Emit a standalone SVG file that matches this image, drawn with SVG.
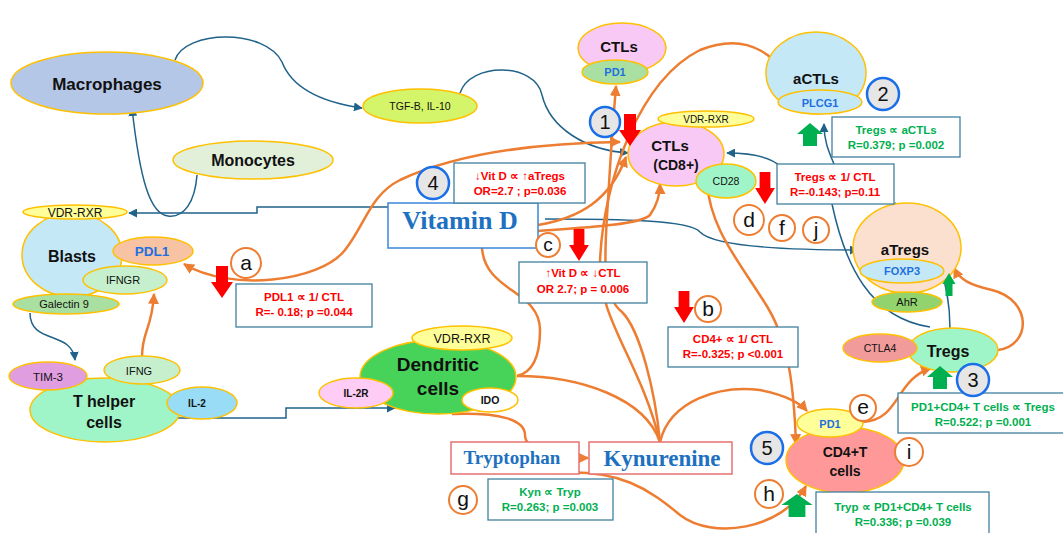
<svg xmlns="http://www.w3.org/2000/svg" width="1063" height="533" viewBox="0 0 1063 533">
<style>
text{font-family:"Liberation Sans",Arial,sans-serif;text-anchor:middle;fill:#111}
.n{stroke:#ffc000;stroke-width:1.5}
.b{font-weight:bold}
.blue{fill:#1f6fe0;font-weight:bold}
.box{fill:#fff;stroke:#41809f;stroke-width:1.3}
.red{fill:#f00;font-weight:bold;font-size:11.5px}
.grn{fill:#00b050;font-weight:bold;font-size:11.5px}
.num{fill:#e7e6e6;stroke:#1a6ee8;stroke-width:2.5}
.let{fill:#fff;stroke:#ed7d31;stroke-width:2}
.lt{font-size:21px}
.db{fill:none;stroke:#20628a;stroke-width:1.5}
.or{fill:none;stroke:#ed7d31;stroke-width:2.5}
.serif{font-family:"Liberation Serif","Times New Roman",serif;font-weight:bold;fill:#1e70c1}
</style>
<defs>
<marker id="mb" viewBox="0 0 10 10" refX="9" refY="5" markerWidth="9" markerHeight="9" markerUnits="userSpaceOnUse" orient="auto-start-reverse"><path d="M0,0 L10,5 L0,10 z" fill="#20628a"/></marker>
<marker id="mo" viewBox="0 0 10 10" refX="9" refY="5" markerWidth="11" markerHeight="11" markerUnits="userSpaceOnUse" orient="auto-start-reverse"><path d="M0,0 L10,5 L0,10 z" fill="#ed7d31"/></marker>
<path id="rdown" d="M-6,0 H6 V16 H11 L0,32 L-11,16 H-6 Z" fill="#f00"/>
<path id="gup" d="M0,0 L13,11 H7 V23 H-7 V11 H-13 Z" fill="#00b050"/>
</defs>

<g id="connectors">
<path class="db" d="M175,60 C185,30 265,28 282,62 C292,88 320,102 362,108" marker-end="url(#mb)"/>
<path class="db" d="M460,93 C470,62 535,62 542,95 C550,128 585,150 628,153" marker-end="url(#mb)"/>
<path class="db" d="M197,175 C195,202 184,218 168,216 C150,214 140,180 132,108" marker-end="url(#mb)"/>
<path class="db" d="M388,207 H257 V213 H129" marker-end="url(#mb)"/>
<path class="db" d="M545,219 C620,219 690,220 700,232 C715,248 800,250 858,250" marker-end="url(#mb)"/>
<path class="db" d="M780,166 C770,157 750,153 727,153" marker-end="url(#mb)"/>
<path class="db" d="M832,204 C845,265 870,318 930,327"/>
<path class="db" d="M950,329 C950,285 935,228 895,203"/>
<path class="db" d="M834,164 C828,150 824,140 824,124" marker-end="url(#mb)"/>
<path class="db" d="M73,229 H97 V259 H123"/>
<path class="db" d="M30,313 C30,345 72,330 75,360" marker-end="url(#mb)"/>
<path class="db" d="M177,418 H286 V408 H395" marker-end="url(#mb)"/>
<path class="or" d="M184,264 C230,292 320,282 345,250 C365,225 370,195 400,180 C460,152 540,143 620,142" marker-start="url(#mo)" marker-end="url(#mo)"/>
<path class="or" d="M538,225 C580,218 610,200 626,157" marker-end="url(#mo)"/>
<path class="or" d="M538,231 C580,228 640,225 650,215 C657,205 660,195 660,184" marker-end="url(#mo)"/>
<path class="or" d="M482,248 C485,292 540,290 540,330 C540,362 530,373 517,376"/>
<path class="or" d="M517,376 C580,376 645,398 660,442"/>
<path class="or" d="M660,442 C655,390 640,330 622,312 C600,295 605,250 608,200 C611,150 614,110 616,86" marker-end="url(#mo)"/>
<path class="or" d="M660,442 C640,360 598,320 600,262 C603,180 640,80 700,50 C750,30 782,58 791,92" marker-end="url(#mo)"/>
<path class="or" d="M660,442 C670,400 720,385 760,390 C785,395 800,403 807,411" marker-end="url(#mo)"/>
<path class="or" d="M707,182 C710,230 740,262 768,308 C790,345 794,392 796,444" marker-start="url(#mo)" marker-end="url(#mo)"/>
<path class="or" d="M452,414 C500,412 525,420 525,435 C525,452 560,458 588,458" marker-end="url(#mo)"/>
<path class="or" d="M553,473 C620,468 650,490 680,515 C712,540 782,530 806,486" marker-end="url(#mo)"/>
<path class="or" d="M863,422 C900,420 895,380 931,368" marker-end="url(#mo)"/>
<path class="or" d="M998,350 C1032,345 1032,300 992,290 C970,285 960,280 954,268" marker-end="url(#mo)"/>
<path class="or" d="M142,357 C142,330 152,330 154,294" marker-end="url(#mo)"/>
</g>

<g id="macrophages"><ellipse class="n" cx="107" cy="83" rx="96" ry="31" fill="#b4c7e7"/><text x="107" y="90" class="b" font-size="17">Macrophages</text></g>
<g id="monocytes"><ellipse class="n" cx="253" cy="160" rx="80" ry="19" fill="#e2f0d9"/><text x="253" y="166" class="b" font-size="16">Monocytes</text></g>
<g id="tgfb"><ellipse class="n" cx="420" cy="106" rx="57" ry="17" fill="#d4f46a"/><text x="420" y="110" font-size="10.5">TGF-B, IL-10</text></g>

<g id="ctls-top"><ellipse class="n" cx="622" cy="48" rx="44" ry="25" fill="#f9c9f5"/><ellipse class="n" cx="615" cy="72" rx="33" ry="12" fill="#a9dfa0"/><text x="619" y="52" class="b" font-size="15">CTLs</text><text x="615" y="76" class="blue" font-size="11">PD1</text></g>

<g id="ctls-cd8"><ellipse class="n" cx="676" cy="154" rx="48" ry="32" fill="#f9c9f5"/><ellipse class="n" cx="706" cy="119" rx="48" ry="8" fill="#ffff99"/><text x="706" y="123" font-size="10">VDR-RXR</text><text x="670" y="151" class="b" font-size="15">CTLs</text><text x="676" y="170" class="b" font-size="14">(CD8+)</text><ellipse class="n" cx="726" cy="181" rx="30" ry="17" fill="#a0f5c8"/><text x="726" y="185" font-size="10.5">CD28</text></g>

<g id="actls"><ellipse class="n" cx="816" cy="73" rx="50" ry="41" fill="#c5e8f7"/><text x="816" y="84" class="b" font-size="15">aCTLs</text><ellipse class="n" cx="820" cy="102" rx="42" ry="12" fill="#c5e8f7"/><text x="820" y="107" class="blue" font-size="11">PLCG1</text></g>

<g id="atregs"><ellipse class="n" cx="907" cy="248" rx="54" ry="45" fill="#fbe0d0"/><text x="905" y="255" class="b" font-size="15">aTregs</text><ellipse class="n" cx="902" cy="271" rx="42" ry="12" fill="#c5e8f7"/><text x="902" y="275" class="blue" font-size="11">FOXP3</text><ellipse class="n" cx="907" cy="302" rx="35" ry="10" fill="#92d36e"/><text x="907" y="306" font-size="11">AhR</text></g>

<g id="tregs"><ellipse class="n" cx="953" cy="350" rx="45" ry="22" fill="#9ff5c8"/><ellipse class="n" cx="880" cy="348" rx="37" ry="14" fill="#f19b9b"/><text x="880" y="352" font-size="10.5">CTLA4</text><text x="948" y="357" class="b" font-size="16">Tregs</text></g>

<g id="cd4"><ellipse class="n" cx="845" cy="460" rx="59" ry="33" fill="#ff9999"/><ellipse class="n" cx="830" cy="423" rx="33" ry="14" fill="#ffff99"/><text x="830" y="428" class="blue" font-size="11">PD1</text><text x="845" y="457" class="b" font-size="14">CD4+T</text><text x="845" y="476" class="b" font-size="14">cells</text></g>

<g id="blasts"><ellipse class="n" cx="72" cy="255" rx="50" ry="42" fill="#c5e8f7"/><text x="72" y="262" class="b" font-size="16">Blasts</text><ellipse class="n" cx="75" cy="212" rx="52" ry="7" fill="#ffff99"/><text x="75" y="217" font-size="12">VDR-RXR</text><ellipse class="n" cx="153" cy="251" rx="40" ry="14" fill="#f8c3a3"/><text x="152" y="256" class="blue" font-size="13.5">PDL1</text><ellipse class="n" cx="125" cy="280" rx="42" ry="14" fill="#c6efce"/><text x="123" y="284" font-size="11">IFNGR</text><ellipse class="n" cx="66" cy="304" rx="53" ry="10" fill="#a9dfa0"/><text x="64" y="308" font-size="11">Galectin 9</text></g>

<g id="thelper"><ellipse class="n" cx="105" cy="410" rx="75" ry="32" fill="#9ff5c8"/><ellipse class="n" cx="48" cy="376" rx="39" ry="14" fill="#e09ee0"/><text x="48" y="381" font-size="11.5">TIM-3</text><ellipse class="n" cx="142" cy="370" rx="38" ry="14" fill="#c6efce"/><text x="139" y="375" font-size="11">IFNG</text><ellipse class="n" cx="202" cy="403" rx="35" ry="16" fill="#99dcf5"/><text x="197" y="407" class="b" font-size="10">IL-2</text><text x="104" y="407" class="b" font-size="16">T helper</text><text x="104" y="428" class="b" font-size="16">cells</text></g>

<g id="dendritic"><ellipse class="n" cx="438" cy="377" rx="78" ry="37" fill="#47d35a"/><ellipse class="n" cx="462" cy="338" rx="50" ry="12" fill="#ffff99"/><text x="462" y="343" font-size="12.5">VDR-RXR</text><ellipse class="n" cx="356" cy="393" rx="37" ry="15" fill="#ffccf5"/><text x="356" y="397" class="b" font-size="10">IL-2R</text><ellipse class="n" cx="490" cy="400" rx="28" ry="12" fill="#fff"/><text x="490" y="404" class="b" font-size="10.5">IDO</text><text x="438" y="371" class="b" font-size="19">Dendritic</text><text x="438" y="395" class="b" font-size="19">cells</text></g>

<g id="vitamin-d"><rect x="388" y="203" width="150" height="45" fill="#fff" stroke="#3a87d9" stroke-width="1.5"/><text x="460" y="229" class="serif" font-size="26">Vitamin D</text></g>
<g id="tryptophan"><rect x="451" y="442" width="128" height="32" fill="#fff" stroke="#e87070" stroke-width="1.5"/><text x="512" y="464" class="serif" font-size="19">Tryptophan</text></g>
<g id="kynurenine"><rect x="589" y="442" width="143" height="32" fill="#fff" stroke="#e87070" stroke-width="1.5"/><text x="662" y="466" class="serif" font-size="23">Kynurenine</text></g>

<g id="stat-boxes">
<rect class="box" x="454" y="163" width="131" height="40"/><text class="red" x="520" y="180">↓Vit D ∝  ↑aTregs</text><text class="red" x="520" y="195">OR=2.7 ; p=0.036</text>
<rect class="box" x="519" y="262" width="128" height="41"/><text class="red" x="583" y="277">↑Vit D ∝ ↓CTL</text><text class="red" x="583" y="293">OR 2.7; p = 0.006</text>
<rect class="box" x="236" y="284" width="136" height="43"/><text class="red" x="304" y="301">PDL1 ∝ 1/ CTL</text><text class="red" x="304" y="316">R=- 0.18; p =0.044</text>
<rect class="box" x="668" y="327" width="130" height="40"/><text class="red" x="733" y="343">CD4+ ∝ 1/ CTL</text><text class="red" x="733" y="358">R=-0.325; p &lt;0.001</text>
<rect class="box" x="777" y="164" width="117" height="40"/><text class="red" x="835" y="181">Tregs ∝ 1/ CTL</text><text class="red" x="835" y="196">R=-0.143; p=0.11</text>
<rect class="box" x="832" y="117" width="128" height="40"/><text class="grn" x="896" y="134">Tregs ∝ aCTLs</text><text class="grn" x="896" y="149">R=0.379; p =0.002</text>
<rect class="box" x="898" y="393" width="168" height="40"/><text class="grn" x="983" y="411">PD1+CD4+ T cells ∝ Tregs</text><text class="grn" x="983" y="426">R=0.522; p =0.001</text>
<rect class="box" x="816" y="492" width="173" height="45"/><text class="grn" x="903" y="511">Tryp ∝ PD1+CD4+ T cells</text><text class="grn" x="903" y="526">R=0.336; p =0.039</text>
<rect class="box" x="488" y="479" width="125" height="41"/><text class="grn" x="550" y="496">Kyn ∝ Tryp</text><text class="grn" x="550" y="511">R=0.263; p =0.003</text>
</g>

<g id="number-markers">
<circle class="num" cx="605" cy="122" r="15"/><text x="605" y="129" font-size="20">1</text>
<circle class="num" cx="883" cy="94" r="16"/><text x="883" y="101" font-size="20">2</text>
<circle class="num" cx="973" cy="380" r="16"/><text x="973" y="387" font-size="20">3</text>
<circle class="num" cx="433" cy="183" r="16"/><text x="433" y="190" font-size="20">4</text>
<circle class="num" cx="767" cy="448" r="16"/><text x="767" y="455" font-size="20">5</text>
</g>

<g id="letter-markers">
<circle class="let" cx="246" cy="263" r="15"/><text x="246" y="270" class="lt">a</text>
<circle class="let" cx="708" cy="309" r="13"/><text x="708" y="316" class="lt">b</text>
<circle class="let" cx="548" cy="245" r="12"/><text x="548" y="251" font-size="19">c</text>
<circle class="let" cx="749" cy="220" r="15"/><text x="749" y="227" class="lt">d</text>
<circle class="let" cx="863" cy="408" r="13"/><text x="863" y="414" class="lt">e</text>
<circle class="let" cx="782" cy="228" r="13"/><text x="782" y="235" class="lt">f</text>
<circle class="let" cx="463" cy="500" r="14"/><text x="463" y="506" class="lt">g</text>
<circle class="let" cx="769" cy="494" r="14"/><text x="769" y="501" class="lt">h</text>
<circle class="let" cx="909" cy="452" r="14"/><text x="909" y="459" class="lt">i</text>
<circle class="let" cx="816" cy="230" r="13"/><text x="816" y="237" class="lt">j</text>
</g>

<g id="indicator-arrows">
<use href="#rdown" x="630" y="114"/>
<use href="#rdown" transform="translate(765,172) scale(0.9,1)"/>
<use href="#rdown" x="222" y="266"/>
<use href="#rdown" transform="translate(579,229) scale(0.9,1)"/>
<use href="#rdown" transform="translate(684,291) scale(0.9,1)"/>
<use href="#gup" x="810" y="123"/>
<use href="#gup" transform="translate(949,273) scale(0.5,1)"/>
<use href="#gup" x="940" y="366"/>
<use href="#gup" transform="translate(797,494) scale(1.2,1)"/>
</g>
</svg>
